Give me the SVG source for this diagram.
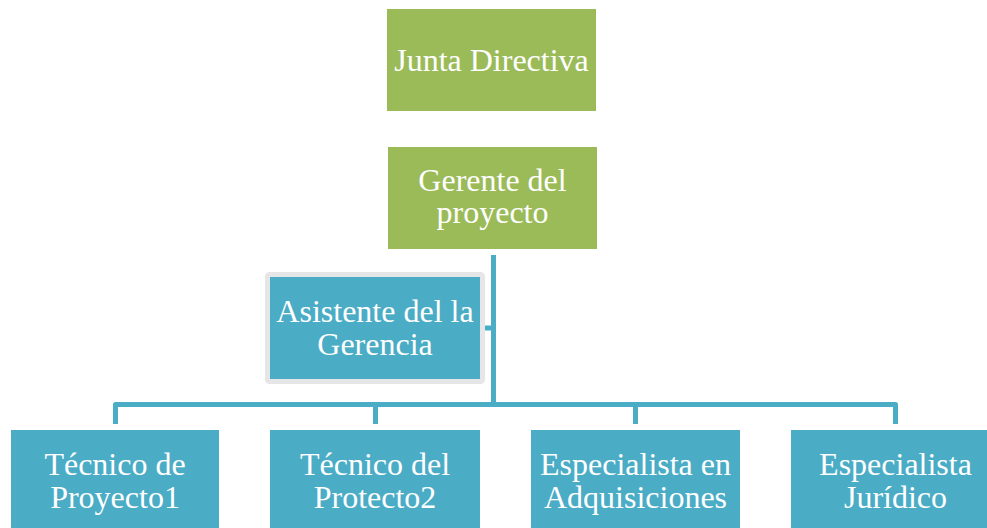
<svg xmlns="http://www.w3.org/2000/svg" width="987" height="528" viewBox="0 0 987 528">
<style>
.g{fill:#9BBB59}
.b{fill:#4BACC6}
.t{font-family:"Liberation Serif","Times New Roman",serif;font-size:32px;fill:#ffffff;text-anchor:middle}
.c{fill:none;stroke:#4BACC6;stroke-width:5;stroke-linejoin:round}
</style>
<rect width="987" height="528" fill="#ffffff"/>
<g id="connectors">
<path class="c" d="M493.5,255 V404.5"/>
<path class="c" d="M485,328 H493.5"/>
<path class="c" d="M115.5,424 V404.5 H895.5 V424"/>
<path class="c" d="M375.5,404.5 V424"/>
<path class="c" d="M635.5,404.5 V424"/>
</g>
<g id="junta">
<rect class="g" x="387" y="9" width="209" height="102"/>
<text class="t" x="491.5" y="71">Junta Directiva</text>
</g>
<g id="gerente">
<rect class="g" x="388" y="147" width="209" height="102"/>
<text class="t" x="492.5" y="191">Gerente del</text>
<text class="t" x="492.5" y="223">proyecto</text>
</g>
<g id="asistente">
<rect x="267.5" y="274.5" width="215" height="107" fill="#4BACC6" stroke="#E6E6E6" stroke-width="5" rx="2"/>
<text class="t" x="375" y="322">Asistente del la</text>
<text class="t" x="375" y="355">Gerencia</text>
</g>
<g id="tecnico1">
<rect class="b" x="11" y="430" width="208" height="102"/>
<text class="t" x="115" y="475">Técnico de</text>
<text class="t" x="115" y="508">Proyecto1</text>
</g>
<g id="tecnico2">
<rect class="b" x="270" y="430" width="210" height="102"/>
<text class="t" x="375" y="475">Técnico del</text>
<text class="t" x="375" y="508">Protecto2</text>
</g>
<g id="especialista-adq">
<rect class="b" x="531" y="430" width="209" height="102"/>
<text class="t" x="635.5" y="475">Especialista en</text>
<text class="t" x="635.5" y="508">Adquisiciones</text>
</g>
<g id="especialista-jur">
<rect class="b" x="791" y="430" width="209" height="102"/>
<text class="t" x="895.5" y="475">Especialista</text>
<text class="t" x="895.5" y="508">Jurídico</text>
</g>
</svg>
